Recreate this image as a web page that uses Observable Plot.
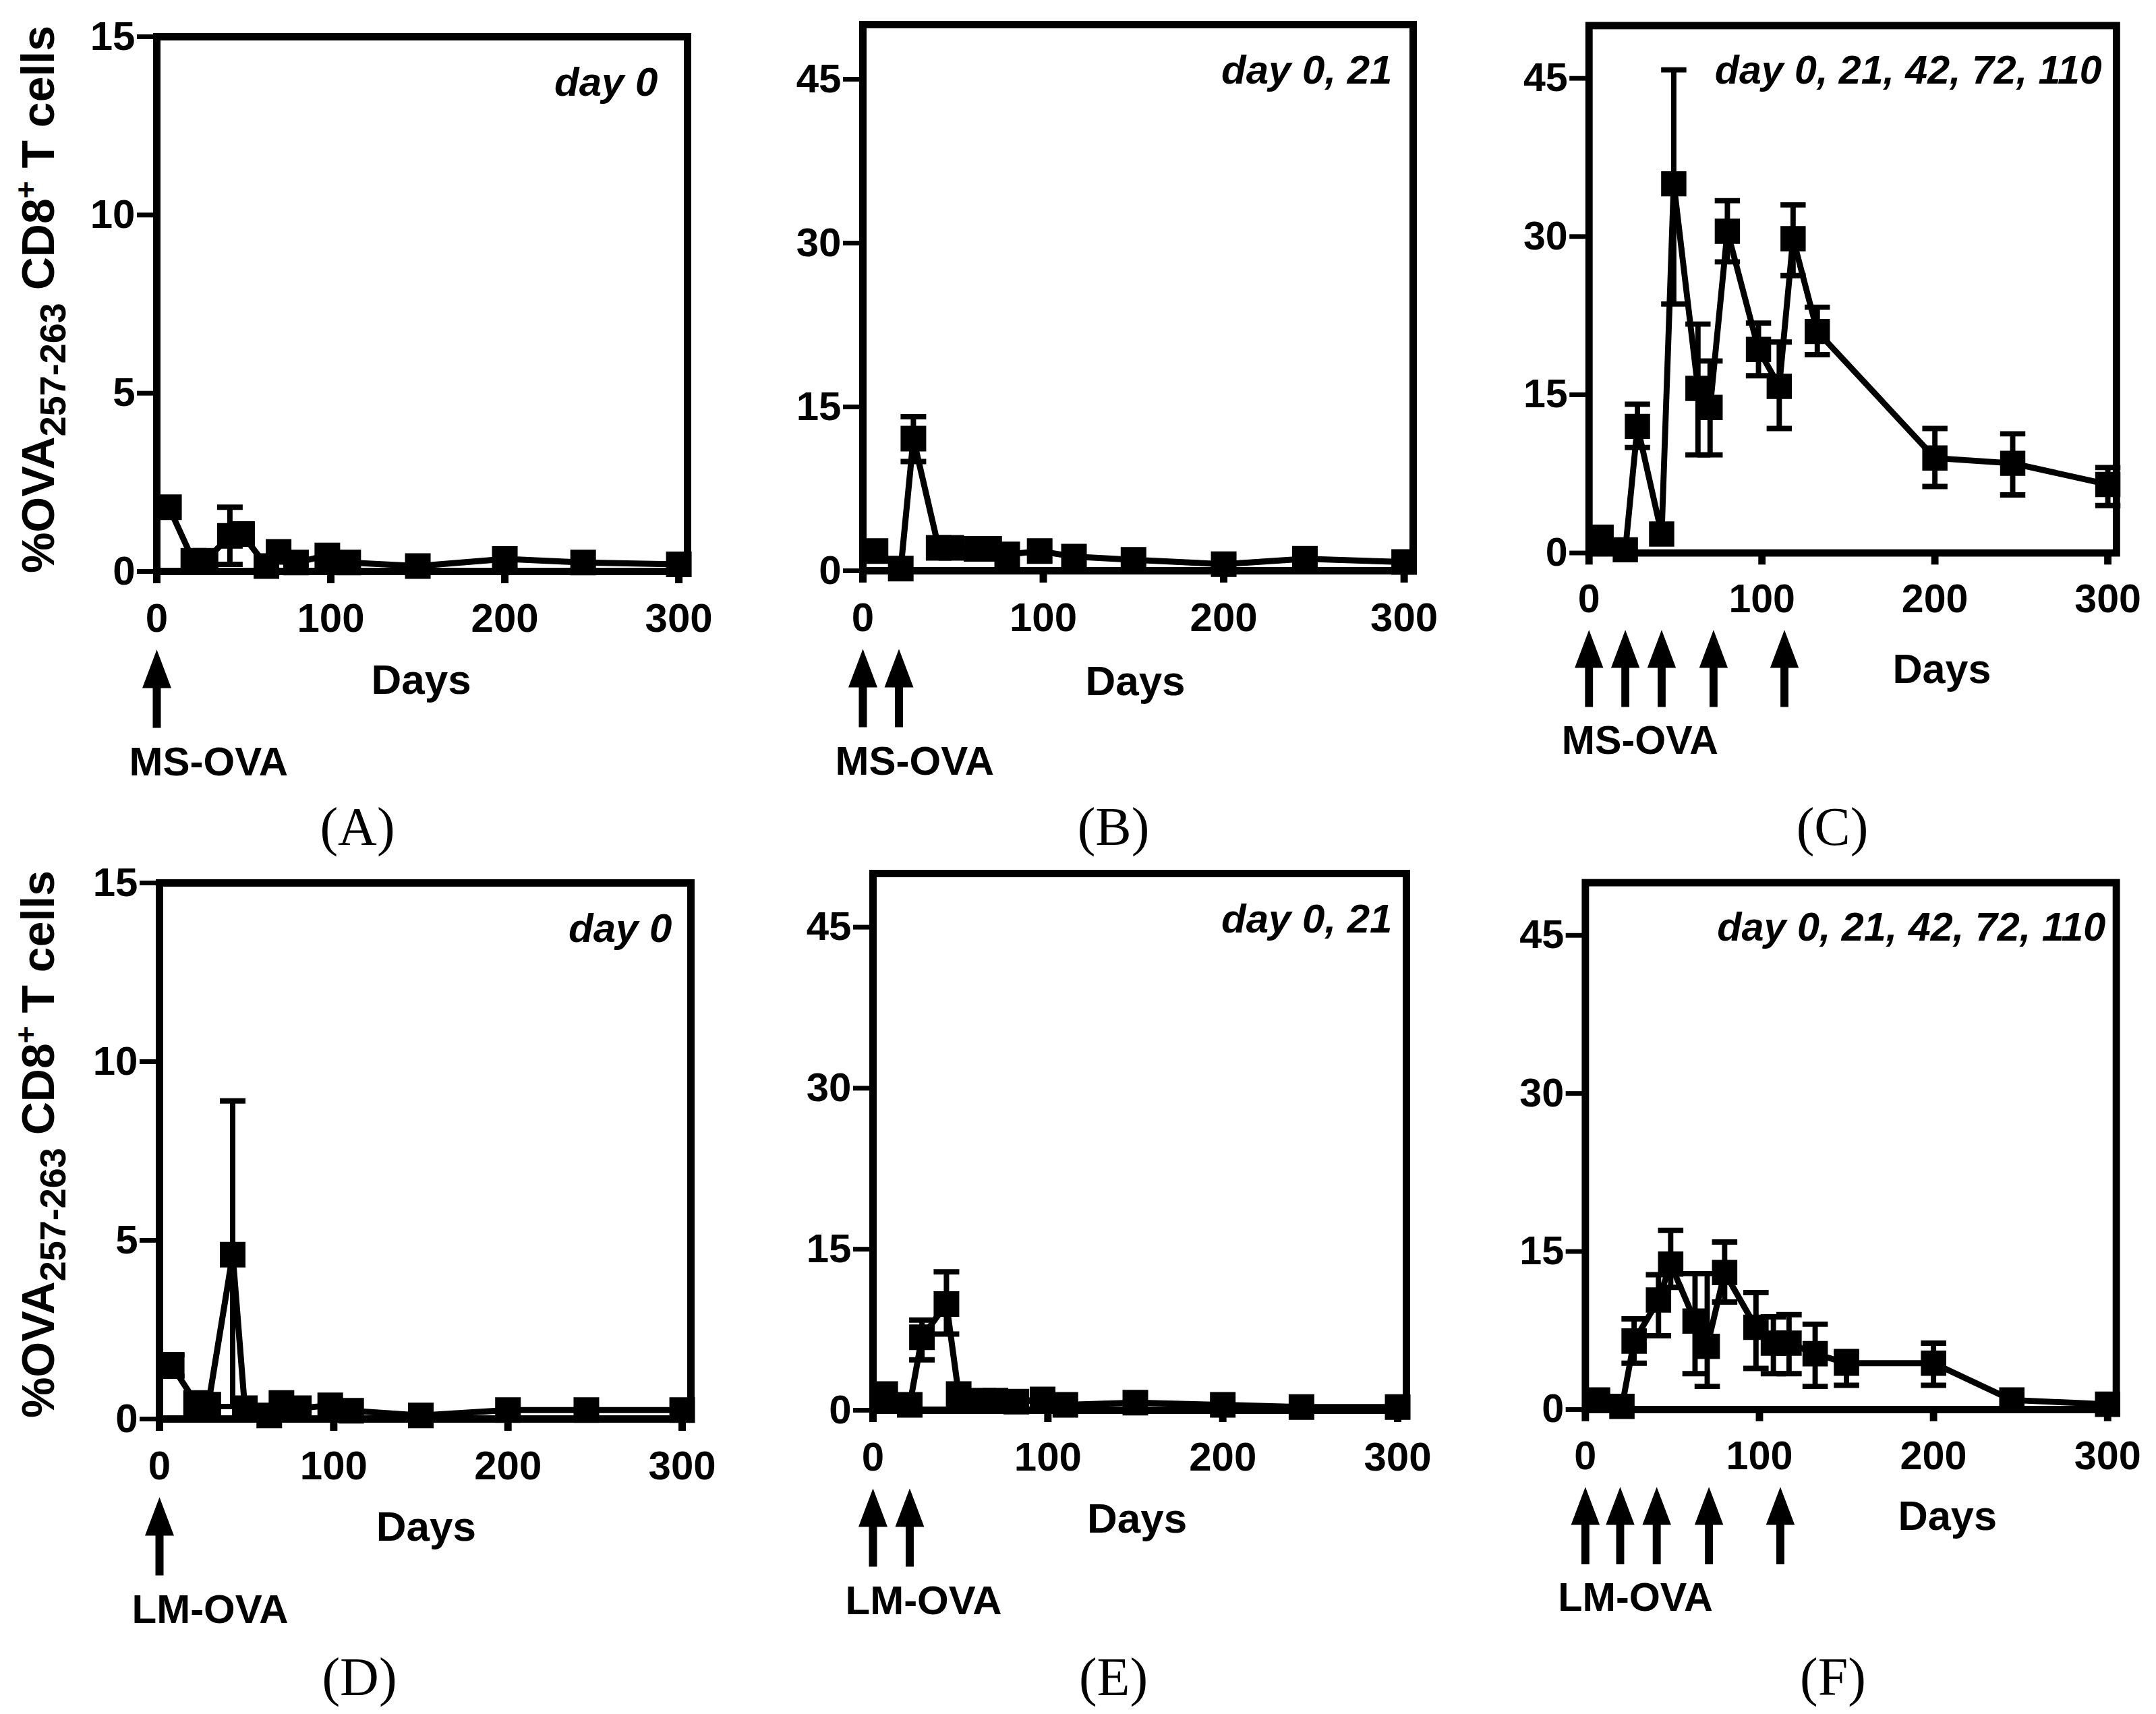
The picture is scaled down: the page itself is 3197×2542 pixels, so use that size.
<!DOCTYPE html>
<html><head><meta charset="utf-8">
<script src="https://cdn.jsdelivr.net/npm/d3@7"></script>
<script src="https://cdn.jsdelivr.net/npm/@observablehq/plot@0.6"></script>
<style>
html,body{margin:0;padding:0;background:#fff;}
#fig{position:relative;width:3197px;height:2542px;background:#fff;overflow:hidden;font-family:"Liberation Sans",Arial,sans-serif;color:#000;}
.panel{position:absolute;}
.panel svg{background:transparent !important;overflow:visible;}
.cap{position:absolute;font-family:"Liberation Serif","Times New Roman",serif;font-size:80px;line-height:1;transform:translate(-50%,-50%);white-space:nowrap;}
.ytitle{position:absolute;width:900px;height:68px;line-height:68px;font-size:68px;font-weight:bold;text-align:center;white-space:nowrap;transform:rotate(-90deg);}
.ytitle sub,.ytitle sup{line-height:0;}
.ytitle sub{font-size:54px;vertical-align:-0.31em;}
.ytitle sup{font-size:44px;vertical-align:0.6em;}
</style></head><body><div id="fig"></div>
<script>
// ---------- data ----------
// (A) MS-OVA, day 0
const daysA = [7, 21, 28, 42, 49, 63, 70, 80, 98, 110, 150, 200, 245, 300];
const meanA = [1.8, 0.3, 0.3, 1.0, 1.05, 0.15, 0.55, 0.25, 0.45, 0.25, 0.15, 0.35, 0.25, 0.2];
const loA   = [null, null, null, 0.2, 0.85, null, null, null, null, null, null, null, null, null];
const hiA   = [null, null, null, 1.8, 1.25, null, null, null, null, null, null, null, null, null];
const arrowsA = [0];
// (B) MS-OVA, day 0, 21
const daysB = [7, 21, 28, 42, 49, 63, 70, 80, 98, 117, 150, 200, 245, 300];
const meanB = [1.8, 0.2, 12.1, 2.1, 2.1, 2.0, 2.0, 1.5, 1.8, 1.3, 1.0, 0.6, 1.1, 0.8];
const loB   = [null, null, 10.0, null, null, null, null, null, null, null, null, null, null, null];
const hiB   = [null, null, 14.1, null, null, null, null, null, null, null, null, null, null, null];
const arrowsB = [0, 20];
// (C) MS-OVA, day 0, 21, 42, 72, 110
const daysC = [7, 21, 28, 42, 49, 63, 70, 80, 98, 110, 118, 132, 200, 245, 300];
const meanC = [1.5, 0.3, 12.0, 1.8, 35.0, 15.6, 13.8, 30.5, 19.3, 15.8, 29.8, 21.0, 9.0, 8.5, 6.5];
const loC   = [null, null, 10.0, null, 23.6, 9.3, 9.3, 27.6, 16.8, 11.8, 26.3, 18.8, 6.3, 5.5, 4.5];
const hiC   = [null, null, 14.1, null, 45.8, 21.7, 18.2, 33.4, 21.8, 20.0, 33.0, 23.3, 11.8, 11.3, 8.1];
const arrowsC = [0, 21, 42, 72, 113];
// (D) LM-OVA, day 0
const daysD = [7, 21, 28, 42, 49, 63, 70, 80, 98, 110, 150, 200, 245, 300];
const meanD = [1.5, 0.45, 0.4, 4.6, 0.3, 0.1, 0.45, 0.3, 0.38, 0.23, 0.1, 0.25, 0.25, 0.25];
const loD   = [1.2, null, null, 0.35, null, null, null, null, null, null, null, null, null, null];
const hiD   = [1.8, null, null, 8.9, null, null, null, null, null, null, null, null, null, null];
const arrowsD = [0];
// (E) LM-OVA, day 0, 21
const daysE = [7, 21, 28, 42, 49, 63, 70, 82, 97, 110, 150, 200, 245, 300];
const meanE = [1.5, 0.5, 6.8, 9.9, 1.5, 0.9, 0.9, 0.8, 1.0, 0.5, 0.7, 0.5, 0.3, 0.3];
const loE   = [null, null, 4.7, 7.1, null, null, null, null, null, null, null, null, null, null];
const hiE   = [null, null, 8.4, 12.9, null, null, null, null, null, null, null, null, null, null];
const arrowsE = [0, 21];
// (F) LM-OVA, day 0, 21, 42, 72, 110
const daysF = [7, 21, 28, 42, 49, 63, 70, 80, 98, 108, 117, 132, 150, 200, 245, 300];
const meanF = [0.9, 0.3, 6.5, 10.4, 13.8, 8.4, 6.0, 13.0, 7.8, 6.3, 6.3, 5.3, 4.4, 4.4, 0.9, 0.5];
const loF   = [null, null, 4.4, 7.0, 11.6, 3.4, 2.2, 10.2, 3.9, 3.4, 3.4, 2.2, 2.3, 2.3, null, null];
const hiF   = [null, null, 8.6, 12.8, 17.0, 12.9, 12.9, 15.9, 11.1, 8.8, 9.0, 8.1, 5.5, 6.3, null, null];
const arrowsF = [0, 20, 41, 71, 112];

const xTicks = [0, 100, 200, 300];
const yTicksLow = [0, 5, 10, 15];
const yTicksHigh = [0, 15, 30, 45];
const yTitleParts = ["%OVA", "257-263", " CD8", "+", " T cells"];

// ---------- layout ----------
const panels = [
  {letter:"(A)", days:daysA, mean:meanA, lo:loA, hi:hiA, arrows:arrowsA, yMax:15, yTicks:yTicksLow,  sched:"day 0", vac:"MS-OVA", x0:232,  xR:1019, top:54,   y0:847,  daysAt:152, daysDy:181, schedDx:-44, cap:[530,1226]},
  {letter:"(B)", days:daysB, mean:meanB, lo:loB, hi:hiB, arrows:arrowsB, yMax:50, yTicks:yTicksHigh, sched:"day 0, 21", vac:"MS-OVA", x0:1279, xR:2095, top:36,   y0:846,  daysAt:151, daysDy:184, schedDx:-31, cap:[1651,1226]},
  {letter:"(C)", days:daysC, mean:meanC, lo:loC, hi:hiC, arrows:arrowsC, yMax:50, yTicks:yTicksHigh, sched:"day 0, 21, 42, 72, 110", vac:"MS-OVA", x0:2358, xR:3152, top:38, y0:832, daysAt:204, daysDy:196, schedDx:-22, cap:[2717,1226]},
  {letter:"(D)", days:daysD, mean:meanD, lo:loD, hi:hiD, arrows:arrowsD, yMax:15, yTicks:yTicksLow,  sched:"day 0", vac:"LM-OVA", x0:236,  xR:1024, top:1309, y0:2104, daysAt:153, daysDy:180, schedDx:-28, cap:[533,2487]},
  {letter:"(E)", days:daysE, mean:meanE, lo:loE, hi:hiE, arrows:arrowsE, yMax:50, yTicks:yTicksHigh, sched:"day 0, 21", vac:"LM-OVA", x0:1294, xR:2085, top:1295, y0:2091, daysAt:151, daysDy:181, schedDx:-21, cap:[1651,2487]},
  {letter:"(F)", days:daysF, mean:meanF, lo:loF, hi:hiF, arrows:arrowsF, yMax:50, yTicks:yTicksHigh, sched:"day 0, 21, 42, 72, 110", vac:"LM-OVA", x0:2352, xR:3148, top:1309, y0:2099, daysAt:208, daysDy:181, schedDx:-16, cap:[2718,2487]}
];

const ML = 150, MR = 60, MT = 36, MB = 340;

const squareSym = {draw(ctx, size){ const k = Math.sqrt(size/Math.PI); ctx.rect(-19*k, -19*k, 38*k, 38*k); }};
const capSym = {draw(ctx, size){ const k = Math.sqrt(size/Math.PI); ctx.moveTo(-19*k, 0); ctx.lineTo(19*k, 0); }};
const arrowSym = {draw(ctx, size){ const k = Math.sqrt(size/Math.PI);
  ctx.moveTo(0, -57*k); ctx.lineTo(21.5*k, 0); ctx.lineTo(6*k, 0); ctx.lineTo(6*k, 59*k);
  ctx.lineTo(-6*k, 59*k); ctx.lineTo(-6*k, 0); ctx.lineTo(-21.5*k, 0); ctx.closePath(); }};

const fig = document.getElementById("fig");

for (const p of panels) {
  const rows = p.days.map((d, i) => ({day: d, mean: p.mean[i], lo: p.lo[i], hi: p.hi[i]}));
  const errRows = rows.filter(r => r.hi != null);
  const W = ML + (p.xR - p.x0) + MR;
  const H = MT + (p.y0 - p.top) + MB;
  const chart = Plot.plot({
    width: W, height: H,
    marginLeft: ML, marginRight: MR, marginTop: MT, marginBottom: MB,
    style: {fontFamily: "'Liberation Sans', Arial, sans-serif", background: "transparent", color: "#000", overflow: "visible"},
    x: {domain: [0, 305]},
    y: {domain: [0, p.yMax]},
    marks: [
      Plot.axisX({ticks: xTicks, tickSize: 18, tickPadding: 29, fontSize: 60, fontWeight: "bold", strokeWidth: 11, label: null}),
      Plot.axisY({ticks: p.yTicks, tickSize: 29, tickPadding: 3, fontSize: 60, fontWeight: "bold", strokeWidth: 7, label: null}),
      Plot.frame({stroke: "#000", strokeWidth: 11}),
      Plot.ruleX(errRows, {x: "day", y1: "lo", y2: "hi", stroke: "#000", strokeWidth: 8}),
      Plot.dot(errRows, {x: "day", y: "hi", symbol: capSym, r: 1, stroke: "#000", strokeWidth: 8, fill: "none"}),
      Plot.dot(errRows, {x: "day", y: "lo", symbol: capSym, r: 1, stroke: "#000", strokeWidth: 8, fill: "none"}),
      Plot.line(rows, {x: "day", y: "mean", stroke: "#000", strokeWidth: 9}),
      Plot.dot(rows, {x: "day", y: "mean", symbol: squareSym, r: 1, fill: "#000", stroke: "none"}),
      Plot.text([p.sched], {frameAnchor: "top-right", dx: p.schedDx, dy: 87, textAnchor: "end", lineAnchor: "bottom", fontSize: 60, fontWeight: "bold", fontStyle: "italic", fill: "#000"}),
      Plot.text(["Days"], {x: () => p.daysAt, frameAnchor: "bottom", dy: p.daysDy, textAnchor: "middle", lineAnchor: "bottom", fontSize: 62, fontWeight: "bold", fill: "#000"}),
      Plot.dot(p.arrows, {x: d => d, frameAnchor: "bottom", dy: 173, symbol: arrowSym, r: 1, fill: "#000", stroke: "none"}),
      Plot.text([p.vac], {frameAnchor: "bottom-left", dx: -41, dy: 302, textAnchor: "start", lineAnchor: "bottom", fontSize: 60, fontWeight: "bold", fill: "#000"})
    ]
  });
  const div = document.createElement("div");
  div.className = "panel";
  div.style.left = (p.x0 - ML) + "px";
  div.style.top = (p.top - MT) + "px";
  div.appendChild(chart);
  fig.appendChild(div);
}

// y-axis titles (left column)
for (const cy of [444, 1697]) {
  const t = document.createElement("div");
  t.className = "ytitle";
  t.style.left = (56 - 450) + "px";
  t.style.top = (cy - 34) + "px";
  t.innerHTML = `${yTitleParts[0]}<sub>${yTitleParts[1]}</sub>${yTitleParts[2]}<sup>${yTitleParts[3]}</sup>${yTitleParts[4]}`;
  fig.appendChild(t);
}

// panel captions
for (const p of panels) {
  const c = document.createElement("div");
  c.className = "cap";
  c.style.left = p.cap[0] + "px";
  c.style.top = p.cap[1] + "px";
  c.textContent = p.letter;
  fig.appendChild(c);
}
</script>
</body></html>
